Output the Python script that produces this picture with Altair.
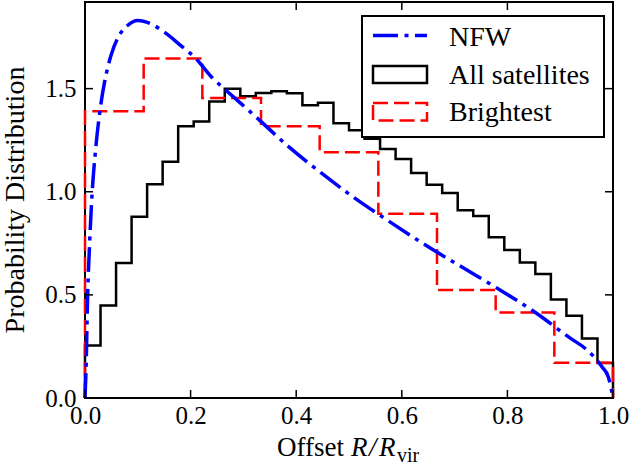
import altair as alt
import pandas as pd

# ---------------- data ----------------
all_satellites = [0.255, 0.448, 0.654, 0.879, 1.036, 1.145, 1.317, 1.341, 1.438, 1.499,
                  1.463, 1.479, 1.487, 1.478, 1.420, 1.432, 1.332, 1.298, 1.257, 1.207,
                  1.159, 1.091, 1.034, 0.994, 0.910, 0.882, 0.779, 0.718, 0.657, 0.601,
                  0.477, 0.399, 0.288, 0.170]
brightest = [1.390, 1.646, 1.455, 1.317, 1.192, 0.893, 0.524, 0.414, 0.171]

nfw_x = [0.0, 0.0025, 0.0044, 0.0089, 0.0133, 0.0203, 0.029, 0.0373, 0.0498, 0.0657,
         0.08, 0.10, 0.123, 0.148, 0.181, 0.21, 0.242, 0.268, 0.325, 0.385, 0.448,
         0.511, 0.581, 0.647, 0.717, 0.786, 0.855, 0.919, 0.947, 0.979, 0.991, 0.997, 1.0]
nfw_y = [0.0, 0.19, 0.435, 0.76, 0.985, 1.21, 1.405, 1.535, 1.665, 1.762,
         1.805, 1.830, 1.816, 1.778, 1.71, 1.646, 1.55, 1.49, 1.36, 1.22, 1.09,
         0.969, 0.848, 0.738, 0.630, 0.524, 0.411, 0.290, 0.241, 0.152, 0.103, 0.039, 0.0]

x_ticks = [0.0, 0.2, 0.4, 0.6, 0.8, 1.0]
y_ticks = [0.0, 0.5, 1.0, 1.5]
legend_labels = ["NFW", "All satellites", "Brightest"]
x_title_parts = ["Offset", "R", "/", "R", "vir"]
y_title = "Probability Distribution"

# ---------------- layout / style ----------------
W, H = 528, 396
FONT = "Liberation Serif"
FS = 25        # tick labels
TFS = 28       # legend and titles
BLUE, RED, BLACK = "#0000ff", "#ff0000", "#000000"

xscale = alt.Scale(domain=[0, 1], nice=False, zero=False)
yscale = alt.Scale(domain=[0, 1.92], nice=False, zero=False)
x_axis = alt.Axis(values=x_ticks, format=".1f", ticks=False, domain=False, grid=False,
                  labelFont=FONT, labelFontSize=FS, labelColor=BLACK, labelPadding=5,
                  labelFlush=False, labelOverlap=False, title=None)
y_axis = alt.Axis(values=y_ticks, format=".1f", ticks=False, domain=False, grid=False,
                  labelFont=FONT, labelFontSize=FS, labelColor=BLACK, labelPadding=9,
                  labelFlush=False, labelOverlap=False, title=None)


def X(field="x"):
    return alt.X(f"{field}:Q", scale=xscale, axis=x_axis)


def Y(field="y"):
    return alt.Y(f"{field}:Q", scale=yscale, axis=y_axis)


def step_frame(vals):
    n = len(vals)
    xs = [0.0] + [i / n for i in range(n)] + [1.0, 1.0]
    ys = [0.0] + list(vals) + [vals[-1], 0.0]
    return pd.DataFrame({"x": xs, "y": ys, "o": list(range(len(xs)))})


black = alt.Chart(step_frame(all_satellites)).mark_line(
    interpolate="step-after", color=BLACK, strokeWidth=2.5
).encode(x=X(), y=Y(), order="o:Q")

red = alt.Chart(step_frame(brightest)).mark_line(
    interpolate="step-after", color=RED, strokeWidth=2.5, strokeDash=[15, 6]
).encode(x=X(), y=Y(), order="o:Q")

nfw_df = pd.DataFrame({"x": nfw_x, "y": nfw_y, "o": list(range(len(nfw_x)))})
blue = alt.Chart(nfw_df).mark_line(
    interpolate="monotone", color=BLUE, strokeWidth=3.5, strokeDash=[25, 6.5, 4, 6.5]
).encode(x=X(), y=Y(), order="o:Q")

# inward ticks on all four sides
xt = pd.DataFrame({"x": x_ticks})
yt = pd.DataFrame({"y": y_ticks})
tick_style = dict(color=BLACK, strokeWidth=1.5)
xt_bottom = alt.Chart(xt).mark_rule(**tick_style).encode(x=X(), y=alt.value(H), y2=alt.value(H - 8))
xt_top = alt.Chart(xt).mark_rule(**tick_style).encode(x=X(), y=alt.value(0), y2=alt.value(8))
yt_left = alt.Chart(yt).mark_rule(**tick_style).encode(y=Y(), x=alt.value(0), x2=alt.value(8))
yt_right = alt.Chart(yt).mark_rule(**tick_style).encode(y=Y(), x=alt.value(W), x2=alt.value(W - 8))

# legend (drawn by hand)
one = pd.DataFrame({"k": [0]})
leg_box = alt.Chart(one).mark_rect(fill="white", stroke=BLACK, strokeWidth=2).encode(
    x=alt.value(277), x2=alt.value(519), y=alt.value(14), y2=alt.value(135))
leg_nfw = alt.Chart(one).mark_rule(color=BLUE, strokeWidth=3.5, strokeDash=[25, 6.5, 4, 6.5]).encode(
    x=alt.value(288), x2=alt.value(342), y=alt.value(33.5))
leg_all = alt.Chart(one).mark_rect(fill=None, stroke=BLACK, strokeWidth=2.5).encode(
    x=alt.value(288), x2=alt.value(342), y=alt.value(64), y2=alt.value(81))
leg_bri = alt.Chart(one).mark_rect(fill=None, stroke=RED, strokeWidth=2.5, strokeDash=[15, 6]).encode(
    x=alt.value(288), x2=alt.value(342), y=alt.value(101), y2=alt.value(118.5))
leg_df = pd.DataFrame({"label": legend_labels, "yy": [44, 82, 119]})
leg_text = alt.Chart(leg_df).mark_text(
    align="left", baseline="alphabetic", font=FONT, fontSize=TFS, color=BLACK
).encode(x=alt.value(364), y=alt.Y("yy:Q", scale=None), text="label:N")


# axis titles (by hand, to get italic R and subscript)
def txt(s, x, y, size=TFS, style="normal", angle=0, align="left"):
    kw = dict(align=align, baseline="alphabetic", font=FONT, fontSize=size,
              fontStyle=style, color=BLACK)
    if angle:
        kw["angle"] = angle
    return alt.Chart(pd.DataFrame({"t": [s]})).mark_text(**kw).encode(
        x=alt.value(x), y=alt.value(y), text="t:N")


xt1 = txt(x_title_parts[0], 192, 454, size=27)
xt2 = txt(x_title_parts[1], 266, 454, size=27, style="italic")
xt3 = txt(x_title_parts[2], 284, 454, size=27, style="italic")
xt4 = txt(x_title_parts[3], 294, 454, size=27, style="italic")
xt5 = txt(x_title_parts[4], 312, 460, size=20)
ytl = txt(y_title, -61, H / 2, angle=270, align="center")

chart = alt.layer(
    black, red, blue, xt_bottom, xt_top, yt_left, yt_right,
    leg_box, leg_nfw, leg_all, leg_bri, leg_text, xt1, xt2, xt3, xt4, xt5, ytl
).properties(
    width=W, height=H,
    autosize=alt.AutoSizeParams(type="none"),
    padding={"left": 85, "top": 2, "right": 20, "bottom": 69},
    background="white",
).configure_view(stroke=BLACK, strokeWidth=2)

chart.save("out.html", embed_options={"renderer": "svg", "actions": False})
